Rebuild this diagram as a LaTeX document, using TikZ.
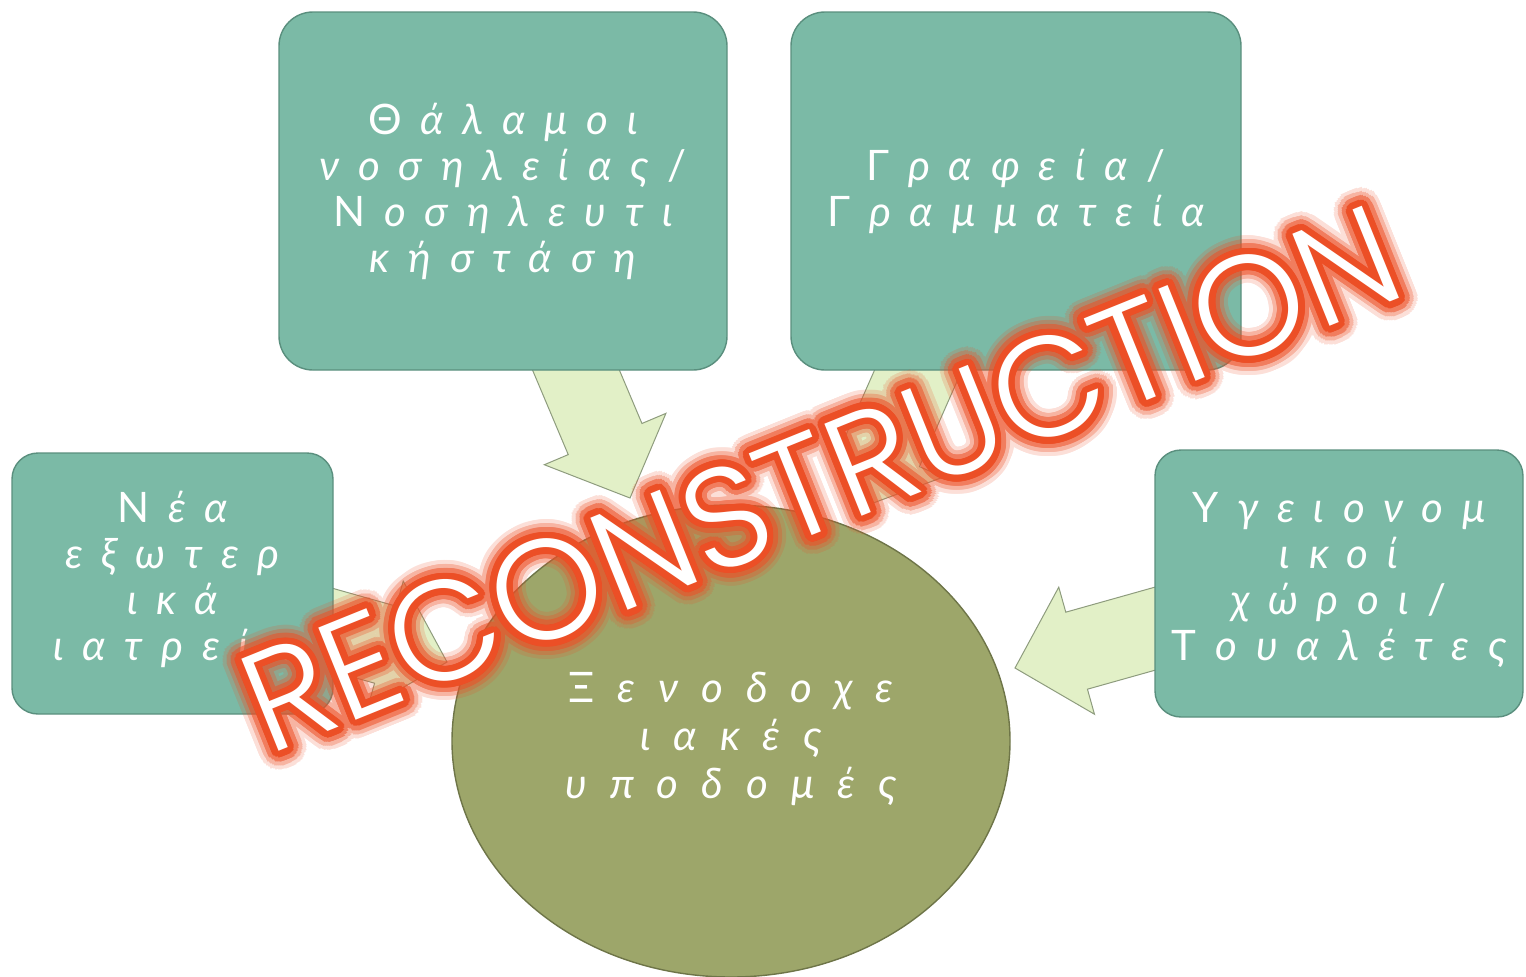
\documentclass[tikz,border=0pt]{standalone}
\usepackage{fontspec}
\usepackage[copies]{contour}
\usetikzlibrary{shapes.geometric}
\newfontfamily\grfont[LetterSpace=45]{Lato}
\newfontfamily\grfontwide[LetterSpace=55]{Lato}
\newfontfamily\wmfont{Poppins Light}
\definecolor{boxfill}{HTML}{7BBAA6}
\definecolor{boxline}{HTML}{5A8F7E}
\definecolor{circfill}{HTML}{9DA66A}
\definecolor{circline}{HTML}{6E7548}
\definecolor{arrfill}{HTML}{E2F0C7}
\definecolor{arrline}{HTML}{8E9C7E}
\definecolor{glowc}{HTML}{EC4F26}
\newcommand\UC[1]{\textup{#1}\hspace{0.45em}}
\newcommand\blockarrow[3]{%
  \begin{scope}[shift={#1}, rotate=#2]
    \draw[arrowshape] (0,0) -- (-64,66) -- (-64,40) -- (-#3,40) -- (-#3,-40) -- (-64,-40) -- (-64,-66) -- cycle;
  \end{scope}}
\newcommand\glowlayer[4]{% name, opacity, length, copies
  \begin{scope}[transparency group, opacity=#2]
    \node[wmtext, text=glowc] (#1) at (839,525) {\contourlength{#3}\contour[#4]{glowc}{RECONSTRUCTION}};
  \end{scope}}
\begin{document}
\begin{tikzpicture}[x=1pt, y=-1pt,
  arrowshape/.style={fill=arrfill, draw=arrline, line width=1pt, line join=miter},
  boxstyle/.style={rectangle, rounded corners=34pt, fill=boxfill, draw=boxline, line width=1.4pt, inner sep=0pt},
  smallbox/.style={boxstyle, rounded corners=26pt},
  label/.style={text=white, align=center, font=\grfont\itshape\fontsize{42}{46}\selectfont},
  wmtext/.style={rotate=22, anchor=base, inner sep=0pt, font=\wmfont\fontsize{142}{142}\selectfont}]
\useasboundingbox (0,0) rectangle (1526,977);

% central ellipse
\node[ellipse, fill=circfill, draw=circline, line width=1.4pt, minimum width=558pt, minimum height=472pt, inner sep=0pt] (hub) at (731,741) {};

% block arrows
\blockarrow{(630,498)}{-67.1}{200}
\blockarrow{(857,509)}{-113.8}{200}
\blockarrow{(447,662)}{-15.7}{150}
\blockarrow{(1015,668)}{-164.3}{175}

% boxes
\node[boxstyle, minimum width=448pt, minimum height=358pt] (b1) at (503,191) {};
\node[boxstyle, minimum width=450pt, minimum height=358pt] (b2) at (1016,191) {};
\node[smallbox, minimum width=321pt, minimum height=261pt] (b3) at (172.5,583.5) {};
\node[smallbox, minimum width=368pt, minimum height=267pt] (b4) at (1339,583.5) {};

% labels
\node[label] (t1) at (b1.center) {\UC{Θ}άλαμοι\\νοσηλείας\textup{/}\\\UC{Ν}οσηλευτι\\κήστάση};
\node[label] (t2) at (b2.center) {\UC{Γ}ραφεία\textup{/}\\\UC{Γ}ραμματεία};
\node[label] (t3) at ([yshift=4pt]b3.center) {\UC{Ν}έα\\εξωτερ\\ικά\\ιατρεία};
\node[label] (t4) at ([yshift=4pt]b4.center) {\UC{Υ}γειονομ\\ικοί\\χώροι\textup{/}\\\UC{Τ}ουαλέτες};
\node[label, font=\grfontwide\itshape\fontsize{42}{48}\selectfont] (th) at ([yshift=2pt]hub.center) {\textup{Ξ}\hspace{0.55em}ενοδοχε\\ιακές\\υποδομές};

% watermark glow and letters
\glowlayer{wm1}{0.18}{19pt}{48}
\glowlayer{wm2}{0.3}{15pt}{48}
\glowlayer{wm3}{0.55}{11pt}{40}
\node[wmtext, text=white] (wm4) at (839,525) {\contourlength{6.5pt}\contour[32]{glowc}{RECONSTRUCTION}};
\end{tikzpicture}
\end{document}
